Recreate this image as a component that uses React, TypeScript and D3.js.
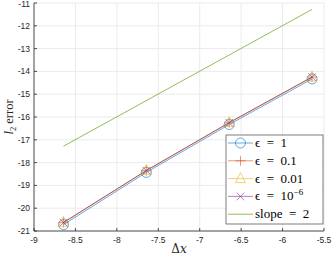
import * as d3 from 'd3'

const dxLog = [-8.644, -7.644, -6.644, -5.644]
const errEps1 = [-20.72, -18.43, -16.33, -14.33]
const errEps01 = [-20.63, -18.35, -16.25, -14.25]
const errEps001 = [-20.62, -18.34, -16.24, -14.24]
const errEps1e6 = [-20.63, -18.35, -16.25, -14.25]
const slopeX = [-8.644, -5.644]
const slopeY = [-17.28, -11.28]

const xTicks = [-9, -8.5, -8, -7.5, -7, -6.5, -6, -5.5]
const yTicks = [-11, -12, -13, -14, -15, -16, -17, -18, -19, -20, -21]

const width = 332
const height = 258
const m = { left: 34, right: 8, top: 3, bottom: 27 }

const x = d3.scaleLinear().domain([-9, -5.5]).range([m.left, width - m.right])
const y = d3.scaleLinear().domain([-21, -11]).range([height - m.bottom, m.top])

const series = [
  { label: '1', vals: errEps1, color: '#0072BD', marker: 'circle' },
  { label: '0.1', vals: errEps01, color: '#D95319', marker: 'plus' },
  { label: '0.01', vals: errEps001, color: '#EDB120', marker: 'triangle' },
  { label: '10', vals: errEps1e6, color: '#7E2F8E', marker: 'cross', sup: '−6' },
]

const line = d3.line<[number, number]>().x(d => x(d[0])).y(d => y(d[1]))

function Marker({ type, cx, cy, color }: { type: string; cx: number; cy: number; color: string }) {
  const s = 5
  if (type === 'circle') return <circle cx={cx} cy={cy} r={s} fill="none" stroke={color} strokeWidth={0.6} />
  if (type === 'plus')
    return <path d={`M${cx - s},${cy}H${cx + s}M${cx},${cy - s}V${cy + s}`} stroke={color} strokeWidth={0.6} />
  if (type === 'triangle')
    return (
      <path
        d={`M${cx},${cy - s - 1}L${cx + s},${cy + s - 1}L${cx - s},${cy + s - 1}Z`}
        fill="none"
        stroke={color}
        strokeWidth={0.6}
      />
    )
  const c = 3.8
  return (
    <path d={`M${cx - c},${cy - c}L${cx + c},${cy + c}M${cx - c},${cy + c}L${cx + c},${cy - c}`} stroke={color} strokeWidth={0.6} />
  )
}

function App() {
  const x0 = m.left
  const x1 = width - m.right
  const y0 = height - m.bottom
  const y1 = m.top
  const lx = 226
  const ly = 135
  const rowH = 17.8
  const sp = '\u2002'

  return (
    <svg width={width} height={height} style={{ position: 'absolute', left: 0, top: 0, background: '#fff' }}>
      {xTicks.map(t => (
        <line key={'gx' + t} x1={x(t)} x2={x(t)} y1={y1} y2={y0} stroke="#ebebeb" strokeWidth={1} />
      ))}
      {yTicks.map(t => (
        <line key={'gy' + t} x1={x0} x2={x1} y1={y(t)} y2={y(t)} stroke="#ebebeb" strokeWidth={1} />
      ))}

      <path d={line(slopeX.map((v, i) => [v, slopeY[i]]) as [number, number][]) || ''} fill="none" stroke="#77AC30" strokeWidth={0.8} />
      {series.map(s => (
        <g key={s.label + (s.sup || '')}>
          <path d={line(dxLog.map((v, i) => [v, s.vals[i]]) as [number, number][]) || ''} fill="none" stroke={s.color} strokeWidth={0.6} />
          {dxLog.map((v, i) => (
            <Marker key={i} type={s.marker} cx={x(v)} cy={y(s.vals[i])} color={s.color} />
          ))}
        </g>
      ))}

      <line x1={x0} x2={x0} y1={y1} y2={y0} stroke="#262626" strokeWidth={0.8} />
      <line x1={x0} x2={x1} y1={y0} y2={y0} stroke="#262626" strokeWidth={0.8} />
      {xTicks.map(t => (
        <g key={'tx' + t}>
          <line x1={x(t)} x2={x(t)} y1={y0} y2={y0 - 3} stroke="#262626" strokeWidth={0.8} />
          <text x={x(t)} y={y0 + 12} textAnchor="middle" fontFamily="Liberation Sans, Arial, sans-serif" fontSize={8.5} fill="#262626">
            {t}
          </text>
        </g>
      ))}
      {yTicks.map(t => (
        <g key={'ty' + t}>
          <line x1={x0} x2={x0 + 3} y1={y(t)} y2={y(t)} stroke="#262626" strokeWidth={0.8} />
          <text x={x0 - 4} y={Math.max(y(t) + 3, 7)} textAnchor="end" fontFamily="Liberation Sans, Arial, sans-serif" fontSize={8.5} fill="#262626">
            {t}
          </text>
        </g>
      ))}

      <text x={(x0 + x1) / 2} y={253} textAnchor="middle" fontFamily="DejaVu Serif, Liberation Serif, serif" fontSize={12} fill="#262626">
        Δ<tspan fontStyle="italic">x</tspan>
      </text>
      <text
        transform={`translate(13,${(y0 + y1) / 2}) rotate(-90)`}
        textAnchor="middle"
        fontFamily="Liberation Serif, serif"
        fontSize={12.5}
        fill="#262626"
      >
        <tspan fontStyle="italic">l</tspan>
        <tspan fontSize={8.5} dy={3}>2</tspan>
        <tspan dy={-3}> error</tspan>
      </text>

      <rect x={lx} y={ly} width={97} height={89} fill="#fff" stroke="#262626" strokeWidth={0.6} />
      {series.map((s, i) => {
        const ry = ly + 8 + i * rowH
        return (
          <g key={'lg' + i}>
            <line x1={lx + 2} x2={lx + 27} y1={ry} y2={ry} stroke={s.color} strokeWidth={0.6} />
            <Marker type={s.marker} cx={lx + 14.5} cy={ry} color={s.color} />
            <text x={lx + 29} y={ry + 4} fontFamily="Liberation Serif, serif" fontSize={13} fill="#000">
              ϵ{sp}={sp}{s.label}
              {s.sup && (
                <tspan fontSize={9} dy={-5}>
                  {s.sup}
                </tspan>
              )}
            </text>
          </g>
        )
      })}
      <line x1={lx + 2} x2={lx + 27} y1={ly + 8 + 4 * rowH} y2={ly + 8 + 4 * rowH} stroke="#77AC30" strokeWidth={0.8} />
      <text x={lx + 29} y={ly + 12 + 4 * rowH} fontFamily="Liberation Serif, serif" fontSize={13} fill="#000">
        slope{sp}={sp}2
      </text>
    </svg>
  )
}

export default App
